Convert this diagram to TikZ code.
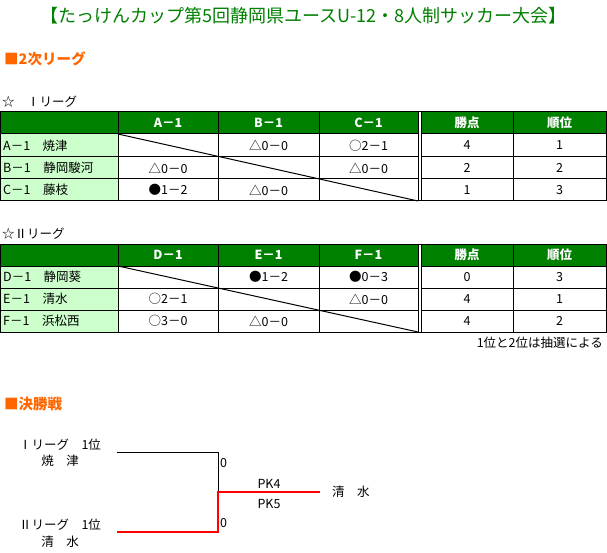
\documentclass[tikz,border=0pt]{standalone}
\usepackage{fontspec}
\setmainfont{Noto Sans CJK JP}
\definecolor{hdrgreen}{HTML}{008000}
\definecolor{rowgreen}{HTML}{CCFFCC}
\definecolor{headorange}{HTML}{FF6600}
\definecolor{bracketred}{HTML}{FF0000}
\begin{document}
\begin{tikzpicture}[x=1pt,y=-1pt,
  grid/.style={draw=black,line width=1pt},
  txt/.style={inner sep=0pt,font=\fontsize{12.5}{12.5}\selectfont},
  hd/.style={inner sep=0pt,text=white,font=\fontsize{12.5}{12.5}\selectfont\bfseries},
  lbl/.style={txt,anchor=west},
  sect/.style={inner sep=0pt,anchor=west,text=headorange,font=\fontsize{14.5}{14.5}\selectfont\bfseries},
  blk/.style={draw=black,line width=1pt},
  win/.style={draw=bracketred,line width=2.2pt}]
\useasboundingbox (0,0) rectangle (607,553);
\fill[white] (0,0) rectangle (607,553);
% title
\node[inner sep=0pt,text=hdrgreen,font=\fontsize{18}{18}\selectfont] (title) at (303.5,16) {【たっけんカップ第5回静岡県ユースU-12・8人制サッカー大会】};
\node[sect] (sec1) at (4,59) {■2次リーグ};
\node[lbl] (lg1) at (2,102) {☆　Ⅰリーグ};
% ===== table 1 =====
\fill[hdrgreen] (0.5,112) rectangle (606,134);
\fill[rowgreen] (0.5,134) rectangle (118,201);
\foreach \y in {134,157,179} \draw[grid] (0.5,\y) -- (606,\y);
\foreach \x in {118,218,319,513} \draw[grid] (\x,112) -- (\x,201);
\fill[white] (418,112) rectangle (421,201);
\draw[grid] (418,112) -- (418,201) (421,112) -- (421,201);
\draw[grid] (0.5,112) rectangle (606,201);
\draw[grid] (118,134) -- (418,201);
\node[hd] (t1hA) at (168,123) {A－1};
\node[hd] (t1hB) at (268.5,123) {B－1};
\node[hd] (t1hC) at (368.5,123) {C－1};
\node[hd] (t1hP) at (467,123) {勝点};
\node[hd] (t1hR) at (559.5,123) {順位};
\node[lbl] (t1rA) at (3,145.5) {A－1　焼津};
\node[lbl] (t1rB) at (3,168) {B－1　静岡駿河};
\node[lbl] (t1rC) at (3,190) {C－1　藤枝};
\node[txt] (t1AB) at (268.5,145.5) {△0－0};
\node[txt] (t1AC) at (368.5,145.5) {○2－1};
\node[txt] (t1AP) at (467,145.5) {4};
\node[txt] (t1AR) at (559.5,145.5) {1};
\node[txt] (t1BA) at (168,168) {△0－0};
\node[txt] (t1BC) at (368.5,168) {△0－0};
\node[txt] (t1BP) at (467,168) {2};
\node[txt] (t1BR) at (559.5,168) {2};
\node[txt] (t1CA) at (168,190) {●1－2};
\node[txt] (t1CB) at (268.5,190) {△0－0};
\node[txt] (t1CP) at (467,190) {1};
\node[txt] (t1CR) at (559.5,190) {3};
% ===== table 2 =====
\node[lbl] (lg2) at (2,234) {☆Ⅱリーグ};
\begin{scope}[shift={(0,132)}]
\fill[hdrgreen] (0.5,112) rectangle (606,134);
\fill[rowgreen] (0.5,134) rectangle (118,200);
\foreach \y in {134,156,178} \draw[grid] (0.5,\y) -- (606,\y);
\foreach \x in {118,218,319,513} \draw[grid] (\x,112) -- (\x,200);
\fill[white] (418,112) rectangle (421,200);
\draw[grid] (418,112) -- (418,200) (421,112) -- (421,200);
\draw[grid] (0.5,112) rectangle (606,200);
\draw[grid] (118,134) -- (418,200);
\node[hd] (t2hD) at (168,123) {D－1};
\node[hd] (t2hE) at (268.5,123) {E－1};
\node[hd] (t2hF) at (368.5,123) {F－1};
\node[hd] (t2hP) at (467,123) {勝点};
\node[hd] (t2hR) at (559.5,123) {順位};
\node[lbl] (t2rD) at (3,145) {D－1　静岡葵};
\node[lbl] (t2rE) at (3,167) {E－1　清水};
\node[lbl] (t2rF) at (3,189) {F－1　浜松西};
\node[txt] (t2DE) at (268.5,145) {●1－2};
\node[txt] (t2DF) at (368.5,145) {●0－3};
\node[txt] (t2DP) at (467,145) {0};
\node[txt] (t2DR) at (559.5,145) {3};
\node[txt] (t2ED) at (168,167) {○2－1};
\node[txt] (t2EF) at (368.5,167) {△0－0};
\node[txt] (t2EP) at (467,167) {4};
\node[txt] (t2ER) at (559.5,167) {1};
\node[txt] (t2FD) at (168,189) {○3－0};
\node[txt] (t2FE) at (268.5,189) {△0－0};
\node[txt] (t2FP) at (467,189) {4};
\node[txt] (t2FR) at (559.5,189) {2};
\end{scope}
\node[txt,anchor=east] (note) at (603,343) {1位と2位は抽選による};
% ===== final =====
\node[sect] (sec2) at (4,404) {■決勝戦};
\node[txt] (f1a) at (60,445) {Ⅰリーグ　1位};
\node[txt] (f1b) at (60,461) {焼　津};
\node[txt] (f2a) at (60,525) {Ⅱリーグ　1位};
\node[txt] (f2b) at (60,542) {清　水};
\coordinate (p1) at (117,452);
\coordinate (q1) at (218,452);
\coordinate (p2) at (117,532);
\coordinate (q2) at (218,532);
\coordinate (m) at (218,492);
\coordinate (w) at (320,492);
\draw[blk] (p1) -- (q1) -- (m);
\draw[win] (p2) -- (q2) -- (m) -- (w);
\node[txt,anchor=west] (s1) at (220,463) {0};
\node[txt,anchor=west] (s2) at (220,523) {0};
\node[txt] (pk4) at (269,484) {PK4};
\node[txt] (pk5) at (269,504) {PK5};
\node[txt,anchor=west] (champ) at (332,492) {清　水};
\end{tikzpicture}
\end{document}
